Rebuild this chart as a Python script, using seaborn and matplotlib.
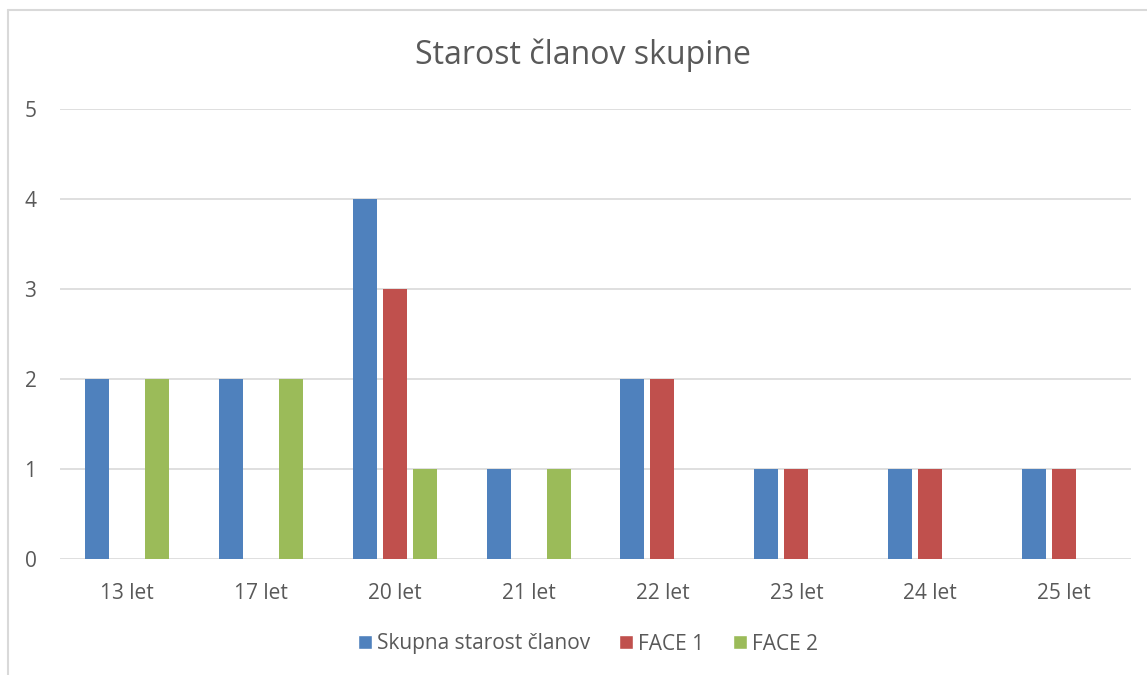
import matplotlib
matplotlib.use("Agg")
import matplotlib.pyplot as plt
import seaborn as sns
import pandas as pd
from matplotlib.patches import Rectangle
from matplotlib.lines import Line2D

categories = ["13 let", "17 let", "20 let", "21 let", "22 let", "23 let", "24 let", "25 let"]
series_names = ["Skupna starost članov", "FACE 1", "FACE 2"]
skupna = [2, 2, 4, 1, 2, 1, 1, 1]
face1 = [0, 0, 3, 0, 2, 1, 1, 1]
face2 = [2, 2, 1, 1, 0, 0, 0, 0]
colors = ["#4F81BD", "#C0504D", "#9BBB59"]
yticks = [0, 1, 2, 3, 4, 5]

rows = []
for name, vals in zip(series_names, [skupna, face1, face2]):
    for c, v in zip(categories, vals):
        rows.append({"cat": c, "series": name, "val": v})
df = pd.DataFrame(rows)

sns.set_theme(style="white")
plt.rcParams["font.family"] = ["Open Sans", "DejaVu Sans"]
text_color = "#595959"

W, H = 1147, 675
fig = plt.figure(figsize=(W / 100, H / 100), dpi=100)
ax = fig.add_axes([60 / W, (H - 559) / H, (1131 - 60) / W, (559 - 109) / H])

sns.barplot(data=df, x="cat", y="val", hue="series", order=categories,
            hue_order=series_names, palette=colors, width=0.672, gap=0.2,
            saturation=1, linewidth=0, errorbar=None, ax=ax, legend=False)

ax.set_ylim(0, 5)
ax.set_xlim(-0.5, len(categories) - 0.5)
ax.set_yticks(yticks)
ax.set_yticklabels([str(t) for t in yticks], fontsize=15, color=text_color)
ax.set_xticklabels(categories, fontsize=15, color=text_color)
ax.tick_params(axis="x", length=0, pad=17)
ax.tick_params(axis="y", length=0, pad=17)
ax.set_xlabel("")
ax.set_ylabel("")
ax.yaxis.grid(True, color="#D9D9D9", linewidth=1.2)
ax.set_axisbelow(True)
for s in ax.spines.values():
    s.set_visible(False)

fig.text(583 / W, (H - 55) / H, "Starost članov skupine", ha="center", va="center",
         fontsize=23, color=text_color)

handles = [Rectangle((0, 0), 1, 1, facecolor=c) for c in colors]
fig.legend(handles, series_names, loc="center", bbox_to_anchor=(588 / W, (H - 644) / H),
           ncol=3, frameon=False, fontsize=15, labelcolor=text_color,
           handlelength=0.65, handleheight=0.65, handletextpad=0.25, columnspacing=1.4)

# chart area border (left and top visible)
fig.add_artist(Line2D([8 / W, 8 / W], [0, (H - 10) / H], color="#D9D9D9", linewidth=1.5,
                      transform=fig.transFigure))
fig.add_artist(Line2D([8 / W, 1], [(H - 10) / H, (H - 10) / H], color="#D9D9D9", linewidth=1.5,
                      transform=fig.transFigure))

fig.savefig("out.png", dpi=100)
